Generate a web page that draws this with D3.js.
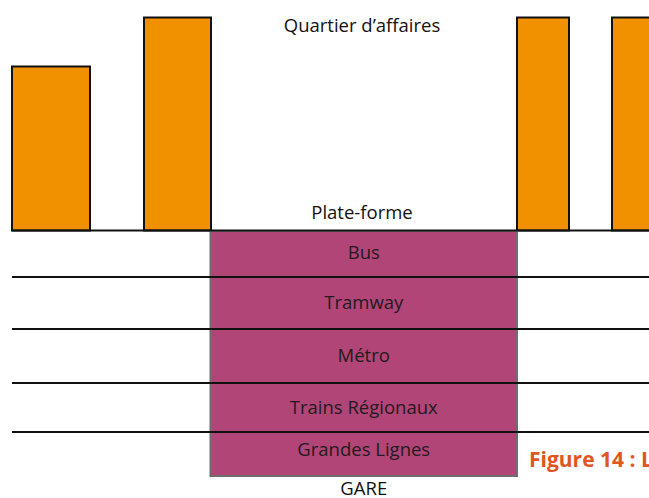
<!DOCTYPE html>
<html><head><meta charset="utf-8">
<script src="https://cdn.jsdelivr.net/npm/d3@7"></script>
<style>html,body{margin:0;padding:0;background:#fff;overflow:hidden}</style>
</head><body>
<script>
// ---- data ----
const buildingHeights = [77, 100, 100, 100];          // relative height of the towers (%)
const modes = ["Bus", "Tramway", "Métro", "Trains Régionaux", "Grandes Lignes"];
const modeDepths = [0, 46, 98, 152, 201, 245];          // cumulative depth of each level
const labels = {top: "Quartier d\u2019affaires", platform: "Plate-forme", station: "GARE", caption: "Figure 14 : La gare"};

// ---- layout ----
const W = 649, H = 498;
const groundY = 230.5, skyY = 17.5;
const slots = [[12, 90], [144, 211], [517, 569], [612, 680]];
const gareX = [210.5, 517];
const lineX = [12, 660];

const svg = d3.select("body").append("svg").attr("width", W).attr("height", H);
const yH = d3.scaleLinear().domain([0, 100]).range([groundY, skyY]);
const yD = d3.scaleLinear().domain([0, 245]).range([231, 476]);
const font = "'Open Sans', sans-serif";
const fs = 18.5;

// buildings
svg.selectAll("rect.b").data(buildingHeights).join("rect")
  .attr("x", (d, i) => slots[i][0]).attr("width", (d, i) => slots[i][1] - slots[i][0])
  .attr("y", d => yH(d)).attr("height", d => groundY - yH(d))
  .attr("fill", "#F29100").attr("stroke", "#111").attr("stroke-width", 2);

// station box
svg.append("rect").attr("x", gareX[0]).attr("y", yD(0)).attr("width", gareX[1] - gareX[0])
  .attr("height", yD(modeDepths[modeDepths.length - 1]) - yD(0))
  .attr("fill", "#B24577").attr("stroke", "#6e6e6e").attr("stroke-width", 2);

// ground line
svg.append("line").attr("x1", lineX[0]).attr("x2", lineX[1]).attr("y1", groundY).attr("y2", groundY)
  .attr("stroke", "#111").attr("stroke-width", 2);

// level lines
svg.selectAll("line.l").data(modeDepths.slice(1, -1)).join("line")
  .attr("x1", lineX[0]).attr("x2", lineX[1]).attr("y1", d => yD(d)).attr("y2", d => yD(d))
  .attr("stroke", "#111").attr("stroke-width", 1.8);

// mode labels
const cx = (gareX[0] + gareX[1]) / 2;
svg.selectAll("text.m").data(modes).join("text")
  .attr("x", cx).attr("y", (d, i) => (yD(modeDepths[i]) + yD(modeDepths[i + 1])) / 2 - (i === 4 ? 4 : 0) + (i === 0 ? -1.5 : 0))
  .attr("dy", "0.35em").attr("text-anchor", "middle")
  .attr("font-family", font).attr("font-size", fs).attr("fill", "#231a20").text(d => d);

svg.append("text").attr("x", 362).attr("y", 32).attr("text-anchor", "middle")
  .attr("font-family", font).attr("font-size", fs).attr("fill", "#111").text(labels.top);
svg.append("text").attr("x", 362).attr("y", 219).attr("text-anchor", "middle")
  .attr("font-family", font).attr("font-size", fs).attr("fill", "#111").text(labels.platform);
svg.append("text").attr("x", cx).attr("y", 494.5).attr("text-anchor", "middle")
  .attr("font-family", font).attr("font-size", fs).attr("fill", "#111").text(labels.station);
svg.append("text").attr("x", 529).attr("y", 467)
  .attr("font-family", "'Open Sans', sans-serif").attr("font-weight", "bold").attr("font-size", 21)
  .attr("fill", "#E0561E").text(labels.caption);
</script>
</body></html>
